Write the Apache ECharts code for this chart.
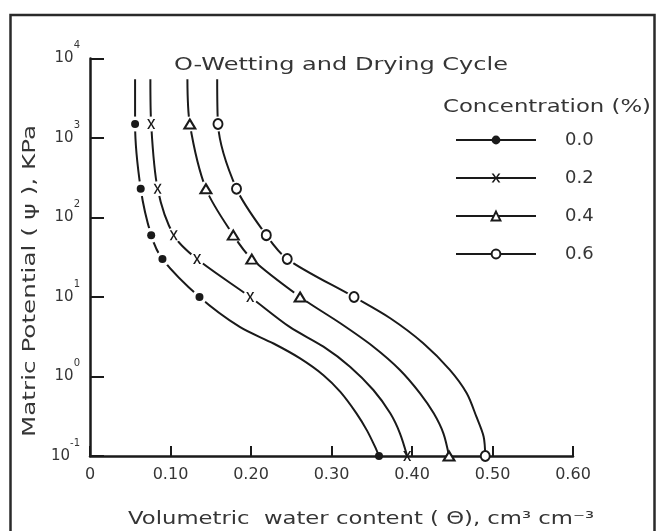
<!DOCTYPE html>
<html><head><meta charset="utf-8">
<script src="https://cdn.jsdelivr.net/npm/echarts@6/dist/echarts.min.js"></script>
<style>html,body{margin:0;padding:0;background:#fff}#c{width:658px;height:531px}</style>
</head><body><div id="c"></div>
<script>
// ---- data ----
const seriesNames = ['0.0', '0.2', '0.4', '0.6'];           // concentration (%)
const psiMarkers = [1500, 230, 60, 30, 10, 0.1];            // kPa, measured points
const theta00 = [0.056, 0.063, 0.076, 0.090, 0.136, 0.359];
const theta02 = [0.076, 0.084, 0.104, 0.133, 0.199, 0.394];
const theta04 = [0.124, 0.144, 0.178, 0.201, 0.261, 0.446];
const theta06 = [0.159, 0.182, 0.219, 0.245, 0.328, 0.491];
// top end of each drawn curve
const psiTop = 5500;
const thetaTop = [0.056, 0.075, 0.121, 0.158];
// points traced along the drawn curves between 10 and 0.1 kPa
const tracePsi00 = [4.2, 2.6, 1.69, 1.04, 0.64, 0.344, 0.21, 0.131];
const traceTheta00 = [0.186, 0.228, 0.261, 0.290, 0.311, 0.331, 0.344, 0.354];
const tracePsi02 = [4.2, 2.37, 1.33, 0.676, 0.344, 0.193];
const traceTheta02 = [0.248, 0.290, 0.323, 0.352, 0.373, 0.385];
const tracePsi04 = [4.67, 2.37, 1.21, 0.615, 0.344, 0.193];
const traceTheta04 = [0.311, 0.352, 0.385, 0.410, 0.427, 0.439];
const tracePsi06 = [5.4, 2.62, 1.21, 0.615, 0.312, 0.175];
const traceTheta06 = [0.373, 0.414, 0.447, 0.468, 0.480, 0.489];
// axis ticks
const xTicks = [0, 0.1, 0.2, 0.3, 0.4, 0.5, 0.6];
const yDecades = [0.1, 1, 10, 100, 1000, 10000];

// ---- styling ----
const FONT = 'DejaVu Sans';
const INK = '#1a1a1a';
const TXT = '#353535';
const xPath = 'path://M0,0L2.3,0L5,3.9L7.7,0L10,0L6.2,5L10,10L7.7,10L5,6.1L2.3,10L0,10L3.8,5Z';
const groups = [
  { theta: theta00, tp: tracePsi00, tt: traceTheta00, symbol: 'circle', size: 8 },
  { theta: theta02, tp: tracePsi02, tt: traceTheta02, symbol: xPath, size: [8, 10] },
  { theta: theta04, tp: tracePsi04, tt: traceTheta04, symbol: 'emptyTriangle', size: [11, 9] },
  { theta: theta06, tp: tracePsi06, tt: traceTheta06, symbol: 'emptyCircle', size: [9, 10] }
];

const series = [];
groups.forEach((g, i) => {
  const name = seriesNames[i];
  const markerPts = g.theta.map((t, k) => [t, psiMarkers[k]]);
  const tracePts = g.tp.map((p, k) => [g.tt[k], p]);
  const linePts = [[thetaTop[i], psiTop]].concat(markerPts, tracePts).sort((a, b) => b[1] - a[1]);
  series.push({
    type: 'line', name, data: linePts, smooth: 0.3, showSymbol: false,
    symbol: g.symbol, symbolSize: g.size,
    lineStyle: { color: INK, width: 2 }, itemStyle: { color: INK },
    z: 2, silent: true, animation: false
  });
  series.push({
    type: 'scatter', name: 'halo' + name, data: markerPts.filter(p => p[1] > 0.1),
    symbol: 'circle', symbolSize: 15, itemStyle: { color: '#fff', opacity: 1 },
    z: 3, silent: true, animation: false
  });
  const empty = typeof g.symbol === 'string' && g.symbol.indexOf('empty') === 0;
  series.push({
    type: 'scatter', name: 'pts' + name, data: markerPts,
    symbol: g.symbol, symbolSize: g.size,
    itemStyle: empty ? { color: INK, borderColor: INK, borderWidth: 1.7, opacity: 1 } : { color: INK, opacity: 1 },
    z: 4, silent: true, animation: false
  });
});

function measure(text, size) {
  const ctx = document.createElement('canvas').getContext('2d');
  ctx.font = size + 'px "' + FONT + '"';
  return ctx.measureText(text).width;
}
function wideText(text, size, x, y, targetW, align, rotation) {
  const w = measure(text, size);
  return {
    type: 'text', x, y, rotation: rotation || 0, scaleX: targetW / w, z: 10,
    style: { text, fill: TXT, font: size + 'px "' + FONT + '"',
      align: align || 'left', verticalAlign: 'middle',
      textAlign: align || 'left', textVerticalAlign: 'middle' }
  };
}

const chart = echarts.init(document.getElementById('c'), null, { renderer: 'canvas' });
chart.setOption({
  backgroundColor: '#fff',
  animation: false,
  grid: { left: 90, right: 85, top: 58.5, bottom: 75 },
  xAxis: {
    type: 'value', min: xTicks[0], max: xTicks[xTicks.length - 1], interval: 0.1,
    axisLine: { lineStyle: { color: INK, width: 2.5 } },
    axisTick: { inside: true, length: 10, lineStyle: { color: INK, width: 2 } },
    splitLine: { show: false },
    axisLabel: { margin: 11, fontFamily: FONT, fontSize: 16, color: TXT,
      formatter: v => v === 0 ? '0' : v.toFixed(2) }
  },
  yAxis: {
    type: 'log', logBase: 10, min: yDecades[0], max: yDecades[yDecades.length - 1],
    axisLine: { show: true, lineStyle: { color: INK, width: 2.5 } },
    axisTick: { show: true, inside: true, length: 14, lineStyle: { color: INK, width: 2 } },
    splitLine: { show: false }, minorTick: { show: false },
    axisLabel: {
      margin: 10,
      formatter: v => '{b|10}{s|' + Math.round(Math.log10(v)) + '}',
      rich: {
        b: { fontFamily: FONT, fontSize: 15, color: TXT, lineHeight: 36 },
        s: { fontFamily: FONT, fontSize: 10, color: TXT, lineHeight: 12, verticalAlign: 'top' }
      }
    }
  },
  legend: {
    data: seriesNames, orient: 'vertical', left: 455, top: 130, padding: 0,
    itemWidth: 80, itemHeight: 11, itemGap: 18, selectedMode: false,
    textStyle: { fontFamily: FONT, fontSize: 18, color: TXT, lineHeight: 20, padding: [0, 0, 0, 24] }
  },
  graphic: [
    { type: 'rect', z: 0, shape: { x: 10.5, y: 15, width: 644, height: 540 },
      style: { fill: 'none', stroke: '#2a2a2a', lineWidth: 2.5 } },
    wideText('O-Wetting and Drying Cycle', 17, 174, 66, 334),
    wideText('Concentration (%)', 17, 443, 108, 208),
    wideText('Volumetric  water content ( Θ), cm³ cm⁻³', 17, 128, 520, 466),
    wideText('Matric Potential ( ψ ), KPa', 17, 31, 281, 312, 'center', Math.PI / 2)
  ],
  series
});
</script>
</body></html>
